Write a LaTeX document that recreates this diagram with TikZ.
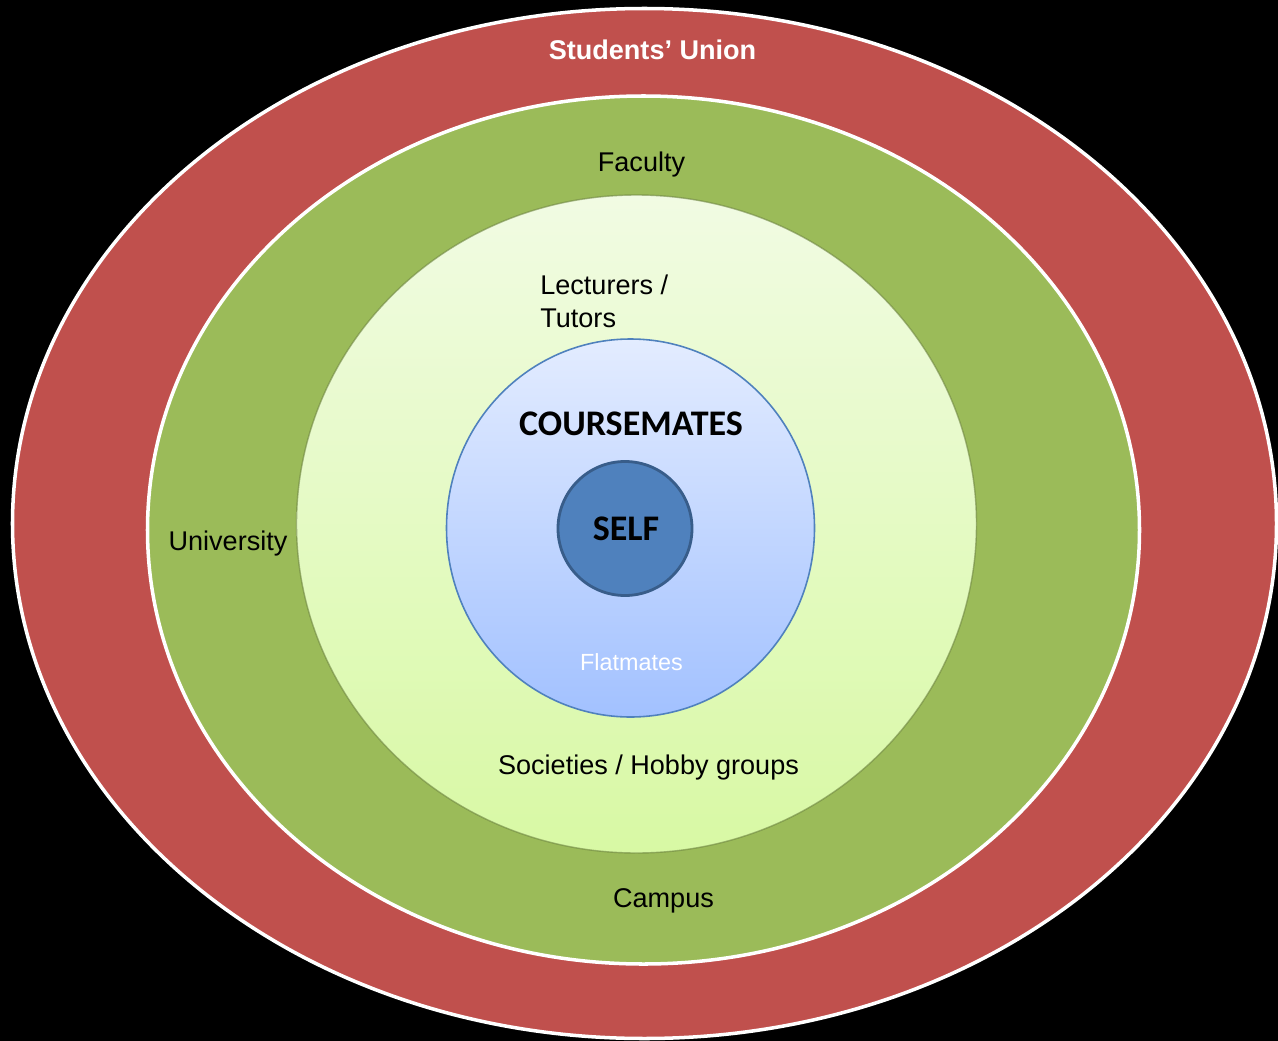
\documentclass[tikz,border=0pt]{standalone}
\usepackage{fontspec}
\setmainfont{Liberation Sans}
\newfontfamily\calibri{Carlito}
\usetikzlibrary{positioning}

\definecolor{unionred}{HTML}{C0504D}
\definecolor{campusgreen}{HTML}{9BBB59}
\definecolor{lighttop}{HTML}{F1FBE3}
\definecolor{lightbottom}{HTML}{D8F9A4}
\definecolor{bluetop}{HTML}{E3ECFF}
\definecolor{bluebottom}{HTML}{A2C1FF}
\definecolor{selfblue}{HTML}{4F81BD}
\definecolor{selfedge}{HTML}{385D8A}

\tikzset{
  ringtext/.style={font=\fontsize{15.4}{18.7}\selectfont, inner sep=0pt},
  bigtext/.style={font=\calibri\bfseries\fontsize{20.5}{24}\selectfont, inner sep=0pt},
}

\begin{document}
\begin{tikzpicture}[x=0.02cm, y=-0.02cm]
    \fill[black] (0,0) rectangle (1278,1041);
    \useasboundingbox (0,0) rectangle (1278,1041);

    % rings, outermost first
    \filldraw[fill=unionred, draw=white, line width=2pt] (644.5,523.5) ellipse [x radius=632, y radius=515];
    \filldraw[fill=campusgreen, draw=white, line width=2pt] (643.5,530) ellipse [x radius=496, y radius=434];
    \shade[top color=lighttop, bottom color=lightbottom] (636.5,524) ellipse [x radius=340, y radius=329];
    \draw[campusgreen!70!black, line width=0.8pt, opacity=0.6] (636.5,524) ellipse [x radius=340, y radius=329];
    \shade[top color=bluetop, bottom color=bluebottom] (630.5,528) ellipse [x radius=184, y radius=189];
    \draw[selfblue, line width=0.9pt] (630.5,528) ellipse [x radius=184, y radius=189];
    \filldraw[fill=selfblue, draw=selfedge, line width=1.6pt] (625,528.5) circle [radius=67];

    \node[ringtext, text=white, font=\bfseries\fontsize{15.4}{18.7}\selectfont] (union) at (652.5,50) {Students’ Union};
    \node[ringtext] (faculty) at (641.5,165) {Faculty};
    \node[ringtext, align=left, anchor=west] (lecturers) at (540,301) {Lecturers /\\Tutors};
    \node[bigtext] (coursemates) at (631,424) {COURSEMATES};
    \node[bigtext] (self) at (626,529) {SELF};
    \node[ringtext, text=white, font=\fontsize{13.3}{16}\selectfont] (flatmates) at (631.5,662) {Flatmates};
    \node[ringtext] (societies) at (648.5,767) {Societies / Hobby groups};
    \node[ringtext] (campus) at (663.5,901) {Campus};
    \node[ringtext] (university) at (228,543) {University};
\end{tikzpicture}
\end{document}
